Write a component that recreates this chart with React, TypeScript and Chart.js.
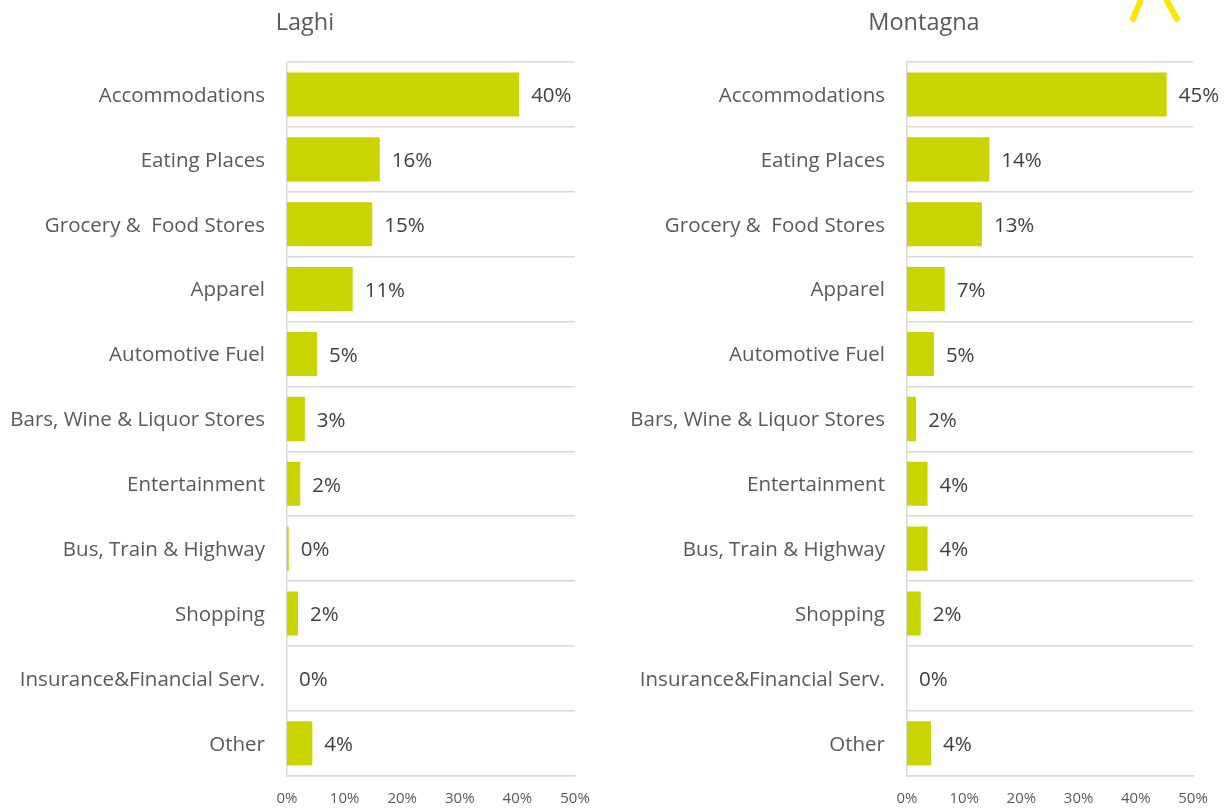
import React, { useEffect, useRef } from "react";
import { Chart, registerables } from "chart.js";

Chart.register(...registerables);

const categories = [
  "Accommodations",
  "Eating Places",
  "Grocery &  Food Stores",
  "Apparel",
  "Automotive Fuel",
  "Bars, Wine & Liquor Stores",
  "Entertainment",
  "Bus, Train & Highway",
  "Shopping",
  "Insurance&Financial Serv.",
  "Other",
];

const laghiValues = [40.3, 16.1, 14.8, 11.4, 5.2, 3.1, 2.3, 0.3, 1.9, 0, 4.4];
const montagnaValues = [45.4, 14.4, 13.1, 6.6, 4.7, 1.6, 3.6, 3.6, 2.4, 0, 4.2];
const xTicks = [0, 10, 20, 30, 40, 50];

const FONT = "'Open Sans', sans-serif";
const BAR = "#c9d400";
const TEXT = "#595959";

const valueLabels = {
  id: "valueLabels",
  afterDatasetsDraw(chart: any) {
    const ctx = chart.ctx;
    const meta = chart.getDatasetMeta(0);
    const data = chart.data.datasets[0].data as number[];
    ctx.save();
    ctx.font = `20.5px ${FONT}`;
    ctx.fillStyle = "#404040";
    ctx.textAlign = "left";
    ctx.textBaseline = "middle";
    meta.data.forEach((bar: any, i: number) => {
      ctx.fillText(`${Math.round(data[i])}%`, bar.x + 12, bar.y + 2);
    });
    ctx.restore();
  },
};

const panelTitle = {
  id: "panelTitle",
  afterDraw(chart: any) {
    const ctx = chart.ctx;
    const t = chart.options.plugins.panelTitle;
    ctx.save();
    ctx.font = `23.5px ${FONT}`;
    ctx.fillStyle = TEXT;
    ctx.textAlign = "center";
    ctx.textBaseline = "middle";
    ctx.fillText(t.text, t.x, 23);
    ctx.restore();
  },
};

function BarPanel({ title, values, axisWidth, padRight, titleX }: { title: string; values: number[]; axisWidth: number; padRight: number; titleX: number }) {
  const ref = useRef<HTMLCanvasElement>(null);
  useEffect(() => {
    const chart = new Chart(ref.current!, {
      type: "bar",
      data: {
        labels: categories,
        datasets: [
          {
            data: values,
            backgroundColor: BAR,
            borderWidth: 0,
            categoryPercentage: 1,
            barPercentage: 0.68,
          },
        ],
      },
      options: {
        indexAxis: "y",
        animation: false,
        responsive: false,
        maintainAspectRatio: false,
        layout: { padding: { left: 0, right: padRight, top: 62, bottom: 0 } },
        plugins: {
          legend: { display: false },
          tooltip: { enabled: false },
          title: { display: false },
          panelTitle: { text: title, x: titleX },
        } as any,
        scales: {
          x: {
            min: 0,
            max: 50,
            afterBuildTicks: (s: any) => {
              s.ticks = xTicks.map((v) => ({ value: v }));
            },
            afterFit: (s: any) => {
              s.height = 31;
            },
            grid: { display: false, drawTicks: false },
            border: { display: true, color: "#d9d9d9", width: 1.5 },
            ticks: {
              padding: 14,
              color: TEXT,
              font: { family: FONT, size: 15 },
              callback: (v: any) => `${v}%`,
            },
          },
          y: {
            afterFit: (s: any) => {
              s.width = axisWidth;
            },
            grid: { color: "#d9d9d9", lineWidth: 1.5, drawTicks: false, offset: true },
            border: { display: true, color: "#d9d9d9", width: 1.5 },
            ticks: {
              padding: 22,
              labelOffset: 1.5,
              color: TEXT,
              font: { family: FONT, size: 20.5 },
            },
          },
        },
      },
      plugins: [valueLabels, panelTitle],
    });
    return () => chart.destroy();
  }, []);
  return <canvas ref={ref} width={610} height={810} style={{ width: 610, height: 810, display: "block" }} />;
}

export default function App() {
  return (
    <div style={{ position: "absolute", left: 0, top: 0, width: 1226, height: 810, background: "#fff", overflow: "hidden" }}>
      <div style={{ position: "absolute", left: 0, top: 0 }}>
        <BarPanel title="Laghi" values={laghiValues} axisWidth={287} padRight={35} titleX={305} />
      </div>
      <div style={{ position: "absolute", left: 616, top: 0 }}>
        <BarPanel title="Montagna" values={montagnaValues} axisWidth={291} padRight={33} titleX={308} />
      </div>
      <svg style={{ position: "absolute", left: 0, top: 0 }} width={1226} height={40}>
        <path d="M1133 19 L1140 2" stroke="#ffe600" strokeWidth={6} strokeLinecap="round" fill="none" />
        <path d="M1167 1 L1177 19" stroke="#ffe600" strokeWidth={6} strokeLinecap="round" fill="none" />
      </svg>
    </div>
  );
}
